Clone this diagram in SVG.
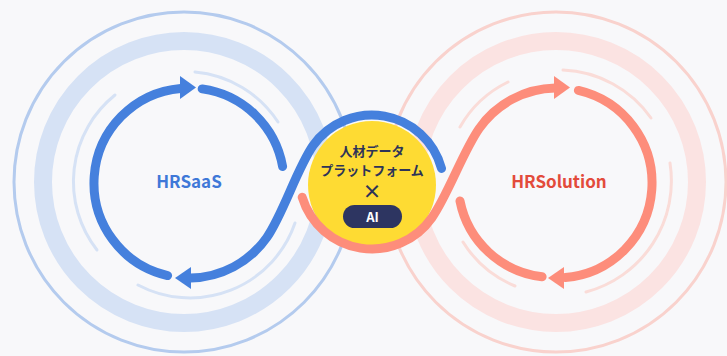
<svg xmlns="http://www.w3.org/2000/svg" width="727" height="356" viewBox="0 0 727 356">
<style>
.bring{fill:none;stroke:#b4cbee;stroke-width:3}
.bthick{fill:none;stroke:#d6e2f5;stroke-width:18}
.blite{fill:none;stroke:#d6e2f5;stroke-width:3;stroke-linecap:round}
.bmain{fill:none;stroke:#4580dd;stroke-width:9;stroke-linecap:round}
.bhead{fill:#4580dd}
.oring{fill:none;stroke:#f9d2cd;stroke-width:3}
.othick{fill:none;stroke:#fbe3e2;stroke-width:18}
.olite{fill:none;stroke:#fadcd8;stroke-width:3;stroke-linecap:round}
.omain{fill:none;stroke:#fd8d7b;stroke-width:9;stroke-linecap:round}
.ohead{fill:#fd8d7b}
.lbl{font-family:"Noto Sans CJK JP","Noto Sans",sans-serif;font-weight:700;text-anchor:middle}
</style>
<rect width="727" height="356" fill="#f8f8fa"/>
<g id="hrsaas">
<circle class="bring" cx="184" cy="182" r="170"/>
<circle class="bthick" cx="184" cy="182" r="141"/>
<path class="blite" d="M195,72 A111,111 0 0 1 278,122"/>
<path class="blite" d="M97,250 A111,111 0 0 1 115,95"/>
<path class="blite" d="M138,285 A111,111 0 0 0 295,223"/>
<path class="bmain" d="M167.6,275.6 A95,95 0 0 1 180.7,88.4"/>
<polygon class="bhead" points="180,76 196,87.5 180,99"/>
<path class="bmain" d="M202.2,88.9 A95,95 0 0 1 282.6,166.5"/>
<polygon class="bhead" points="191,267 175,278 191,289"/>
<text class="lbl" x="189" y="188" font-size="17" fill="#3f78d8">HRSaaS</text>
</g>
<g id="hrsolution">
<circle class="oring" cx="556" cy="182" r="170"/>
<circle class="othick" cx="556" cy="182" r="141"/>
<path class="olite" d="M460,127 A111,111 0 0 1 508,82"/>
<path class="olite" d="M563,70 A113,113 0 0 1 651,118"/>
<path class="olite" d="M670,163 A115,115 0 0 1 586,292"/>
<path class="olite" d="M515,286 A111,111 0 0 1 463,242"/>
<path class="omain" d="M578.4,90.4 A95,95 0 0 1 565.3,277.6"/>
<polygon class="ohead" points="564,267 548,278 564,289"/>
<path class="omain" d="M542.1,276.8 A95,95 0 0 1 460,201"/>
<polygon class="ohead" points="554,76 570,87.5 554,99"/>
<text class="lbl" x="559" y="188" font-size="17" fill="#e34b3b">HRSolution</text>
</g>
<g id="connectors">
<path class="bmain" d="M190.7,278 A95,95 0 0 0 266.8,237.5 C282.9,214.6 297,168.6 313,145.7 A72,72 0 0 1 441.5,168.4"/>
</g>
<g id="platform">
<circle cx="372" cy="185" r="64" fill="#fedb33"/>
<text class="lbl" x="372" y="156" font-size="13" fill="#2d3358">人材データ</text>
<text class="lbl" x="372" y="175" font-size="13" fill="#2d3358">プラットフォーム</text>
<text class="lbl" x="372" y="198.5" font-size="19" fill="#2d3358">×</text>
<rect x="343" y="205" width="59" height="23" rx="11.5" fill="#2d3561"/>
<text class="lbl" x="372.5" y="221.5" font-size="13" fill="#ffffff">AI</text>
</g>
<g id="connectors-2">
<path class="omain" d="M302.2,197.3 A73,73 0 0 0 431.8,217.9 C448,194.9 463,151.5 479.2,128.5 A95,95 0 0 1 555.3,88"/>
</g>
</svg>
